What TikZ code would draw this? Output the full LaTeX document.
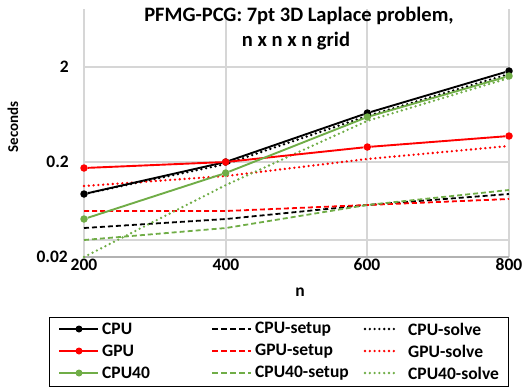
\documentclass[tikz,border=0pt]{standalone}
\usepackage{fontspec}
\setmainfont{Carlito}
\definecolor{cgreen}{RGB}{112,173,71}
\definecolor{gridgray}{RGB}{214,214,214}
\begin{document}
\begin{tikzpicture}[x=1pt,y=-1pt,
  gridline/.style={draw=gridgray, line width=1.3pt},
  axisline/.style={draw=black!30, line width=1.4pt},
  solidser/.style={line width=1.9pt},
  dashser/.style={line width=1.8pt, dash pattern=on 5pt off 3pt},
  dotser/.style={line width=2.6pt, line cap=round, dash pattern=on 0pt off 4.8pt},
  mk/.style={circle, inner sep=0pt, minimum size=7.5pt},
  lbl/.style={font=\bfseries\fontsize{17.5}{20}\selectfont, inner sep=0pt},
  ttl/.style={font=\bfseries\fontsize{20.5}{24}\selectfont, inner sep=0pt},
]
\useasboundingbox (0,0) rectangle (526,391);
% grid
\foreach \gx in {84,226,367,509}{
  \draw[gridline] (\gx,9) -- (\gx,257);
}
\draw[gridline] (84,67) -- (509,67);
\draw[gridline] (84,162) -- (509,162);
\draw[gridline] (84,240) -- (509,240);
\draw[axisline] (84,257) -- (509,257);
% title
\node[ttl] (t1) at (299,16) {PFMG-PCG: 7pt 3D Laplace problem,};
\node[ttl] (t2) at (296,41) {n x n x n grid};
% axis labels
\node[lbl, anchor=east] (y2) at (69,67) {2};
\node[lbl, anchor=east] (y02) at (69,162) {0.2};
\node[lbl, anchor=east] (y002) at (68,257) {0.02};
\node[lbl] (x200) at (84,265) {200};
\node[lbl] (x400) at (226,265) {400};
\node[lbl] (x600) at (367,265) {600};
\node[lbl] (x800) at (509,265) {800};
\node[lbl] (xt) at (300,292) {n};
\node[font=\bfseries\fontsize{15}{18}\selectfont, inner sep=0pt, rotate=90] (yt) at (13,127) {Seconds};
% data coordinates
\coordinate (cs1) at (84,194); \coordinate (cs2) at (226,164); \coordinate (cs3) at (367,116); \coordinate (cs4) at (509,74);
\coordinate (gs1) at (84,186); \coordinate (gs2) at (226,176); \coordinate (gs3) at (367,159); \coordinate (gs4) at (509,146);
\coordinate (ks1) at (84,257); \coordinate (ks2) at (226,185); \coordinate (ks3) at (367,121); \coordinate (ks4) at (509,78);
\coordinate (cu1) at (84,228); \coordinate (cu2) at (226,219); \coordinate (cu3) at (367,205); \coordinate (cu4) at (509,194);
\coordinate (gu1) at (84,211); \coordinate (gu2) at (226,211); \coordinate (gu3) at (367,205); \coordinate (gu4) at (509,199);
\coordinate (ku1) at (84,240); \coordinate (ku2) at (226,228); \coordinate (ku3) at (367,205); \coordinate (ku4) at (509,190);
% setup (dashed)
\draw[dashser, black] (cu1) -- (cu2) -- (cu3) -- (cu4);
\draw[dashser, red] (gu1) -- (gu2) -- (gu3) -- (gu4);
\draw[dashser, cgreen] (ku1) -- (ku2) -- (ku3) -- (ku4);
% solve (dotted)
\draw[dotser, black] (cs1) -- (cs2) -- (cs3) -- (cs4);
\draw[dotser, red] (gs1) -- (gs2) -- (gs3) -- (gs4);
\draw[dotser, cgreen] (ks1) -- (ks2) -- (ks3) -- (ks4);
% totals (solid with markers)
\foreach \i/\y in {1/194,2/162,3/113,4/71}{
  \node[mk, fill=black] (c\i) at ({84+(\i-1)*141.67},\y) {};
}
\draw[solidser, black] (c1) -- (c2) -- (c3) -- (c4);
\foreach \i/\y in {1/168,2/162,3/147,4/136}{
  \node[mk, fill=red] (g\i) at ({84+(\i-1)*141.67},\y) {};
}
\draw[solidser, red] (g1) -- (g2) -- (g3) -- (g4);
\foreach \i/\y in {1/219,2/173,3/117,4/76}{
  \node[mk, fill=cgreen] (k\i) at ({84+(\i-1)*141.67},\y) {};
}
\draw[solidser, cgreen] (k1) -- (k2) -- (k3) -- (k4);
% legend
\node[draw=black, line width=0.9pt, minimum width=459pt, minimum height=69pt, inner sep=0pt] (leg) at (278.5,351.5) {};
\foreach \r/\y/\col/\nm in {1/329/black/CPU,2/351/red/GPU,3/373/cgreen/CPU40}{
  \coordinate (la\r) at (59,\y); \coordinate (lb\r) at (98,\y);
  \draw[solidser, \col] (la\r) -- (lb\r);
  \node[mk, fill=\col, minimum size=7pt] (lm\r) at (79,\y) {};
  \node[lbl, anchor=west] (lt\r) at (102,\y) {\nm};
  \coordinate (lc\r) at (212,\y); \coordinate (ld\r) at (251,\y);
  \draw[dashser, \col, dash pattern=on 5.5pt off 3.5pt] (lc\r) -- (ld\r);
  \node[lbl, anchor=west] (lu\r) at (255,\y) {\nm-setup};
  \coordinate (le\r) at (365,\y); \coordinate (lf\r) at (396,\y);
  \draw[dotser, \col] (le\r) -- (lf\r);
  \node[lbl, anchor=west] (ls\r) at (408,\y) {\nm-solve};
}
\end{tikzpicture}
\end{document}
